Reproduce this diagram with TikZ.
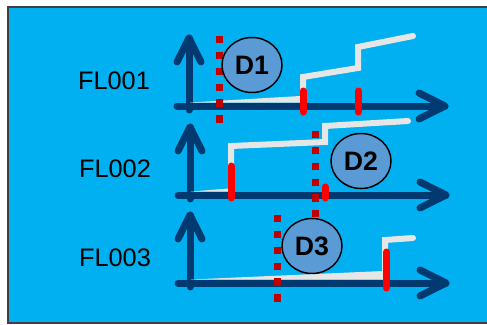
\documentclass[tikz,border=0pt]{standalone}
\usepackage{fontspec}
\setmainfont{Liberation Sans}
\usepackage{tikz}
\usetikzlibrary{shapes.geometric}
\definecolor{bgblue}{HTML}{00B0F0}
\definecolor{axisblue}{RGB}{0,58,112}
\definecolor{trendwhite}{HTML}{E7E6E6}
\definecolor{tagblue}{HTML}{5B9BD5}
\definecolor{cutred}{HTML}{C00000}
\definecolor{framegray}{HTML}{404040}
\newcommand{\thick}{5.25pt}
% both axes of one flow, drawn around the origin of a shifted scope
\newcommand{\flaxes}{
\draw[axisline] (-12,0) -- (256,0);
\draw[axisline] (230,-13) -- (256,0) -- (230,13);
\draw[axisline] (0,4) -- (0,-68);
\draw[axisline] (-12,-44) -- (0,-68) -- (12,-44);
}
\tikzset{
  axisline/.style={draw=axisblue, line width=\thick, line cap=round, line join=round},
  trend/.style={draw=trendwhite, line width=4.5pt, line cap=round},
  hitmark/.style={draw=red, line width=\thick, line cap=round},
  cutline/.style={draw=cutred, line width=\thick, dash pattern=on 5.5pt off 6.4pt},
  flname/.style={font=\fontsize{19}{19}\selectfont},
  dbubble/.style={ellipse, draw=black, line width=1.1pt, fill=tagblue, inner sep=0pt,
    minimum width=45pt, minimum height=41.25pt, font=\bfseries\fontsize{20}{20}\selectfont}
}

\begin{document}
\begin{tikzpicture}[x=0.75pt, y=-0.75pt]
\useasboundingbox (0,0) rectangle (487,325);
\fill[bgblue] (8,7) rectangle (495,323);
\draw[framegray, line width=1pt] (495,7) -- (8,7) -- (8,323) -- (495,323);
%labels
\node[flname] (fl1) at (114,81) {FL001};
\node[flname] (fl2) at (115,168.5) {FL002};
\node[flname] (fl3) at (115,257.5) {FL003};
%axes
\begin{scope}[shift={(189,106)}]
\flaxes
\end{scope}
\begin{scope}[shift={(190,195)}]
\flaxes
\end{scope}
\begin{scope}[shift={(190,283)}]
\flaxes
\end{scope}
%FL001
\fill[trendwhite] (190,102.5) -- (300,96) -- (300,102.5) -- cycle;
\draw[trend] (303,100) -- (303,77) -- (358,68) -- (358,47) -- (413,36);
\draw[hitmark] (303,91) -- (303,112);
\draw[hitmark] (358.5,91) -- (358.5,112);
%FL002
\fill[trendwhite] (191,191.5) -- (229,188.5) -- (229,191.5) -- cycle;
\draw[trend] (231,190) -- (231,146) -- (325,142) -- (325,126) -- (408,121);
\draw[hitmark] (231,166) -- (231,198);
\draw[hitmark] (325,187) -- (325,198);
%FL003
\fill[trendwhite] (191,279.5) -- (383,271) -- (383,279.5) -- cycle;
\draw[trend] (385,278) -- (385,240) -- (413,238);
\draw[hitmark] (386.5,252) -- (386.5,288);
%cuts
\draw[cutline] (219.5,36) -- (219.5,123);
\draw[cutline] (315.5,131) -- (315.5,217);
\draw[cutline] (277,215) -- (277,302);
%bubbles
\node[dbubble] (d1) at (252,65) {D1};
\node[dbubble] (d2) at (361,161) {D2};
\node[dbubble] (d3) at (312,246) {D3};
\end{tikzpicture}
\end{document}
